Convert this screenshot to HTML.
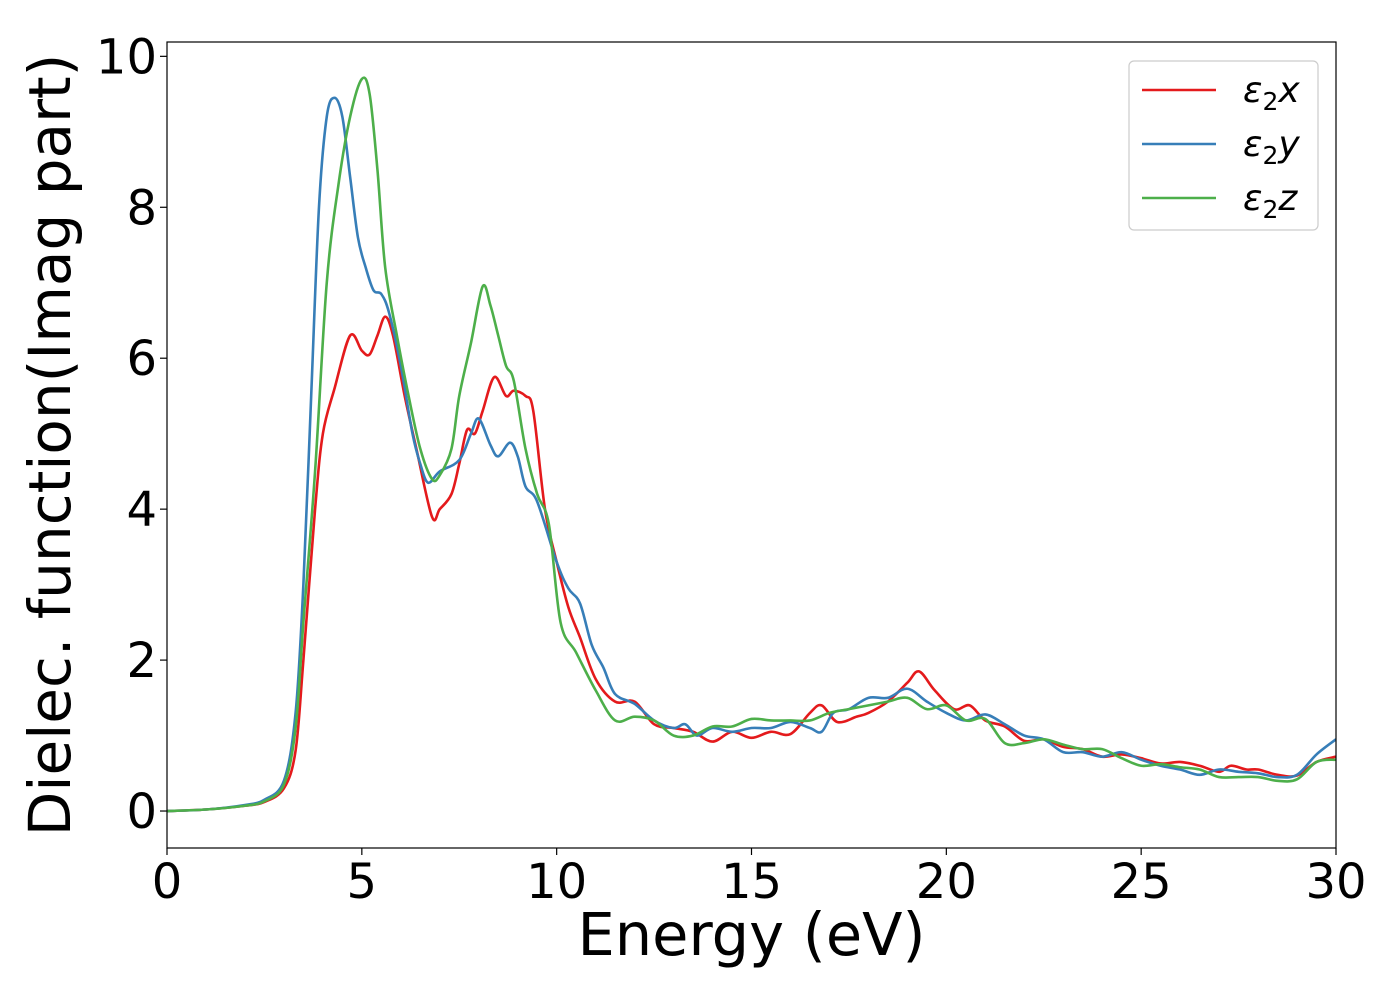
<!DOCTYPE html>
<html><head><meta charset="utf-8"><style>
body{margin:0;background:#fff}
svg text{font-family:"DejaVu Sans","Liberation Sans",sans-serif;fill:#000}
</style></head><body>
<svg id="chart" width="1400" height="1000">
<g id="plot"></g>
</svg>
<script>
const xRed=[0,1,2,2.5,3,3.3,3.5,3.8,4,4.3,4.7,5,5.2,5.4,5.6,5.8,6.1,6.4,6.8,7,7.3,7.5,7.7,7.9,8.1,8.4,8.7,8.9,9.2,9.4,9.7,10,10.3,10.6,11,11.5,12,12.5,13,13.5,14,14.5,15,15.5,16,16.5,16.8,17.2,17.7,18,18.5,19,19.3,19.7,20.2,20.6,21,21.5,22,22.5,23,23.5,24,24.5,25,25.5,26,26.5,27,27.3,27.7,28,28.5,29,29.5,30];
const yRed=[0,0.02,0.07,0.12,0.3,0.8,2,4,5,5.6,6.3,6.1,6.05,6.3,6.55,6.3,5.5,4.8,3.9,4,4.2,4.6,5.05,5.0,5.3,5.75,5.5,5.57,5.5,5.3,4,3.3,2.7,2.3,1.75,1.45,1.45,1.15,1.1,1.05,0.92,1.05,0.97,1.05,1.02,1.3,1.4,1.18,1.25,1.3,1.45,1.7,1.85,1.6,1.35,1.4,1.2,1.12,0.93,0.95,0.85,0.82,0.72,0.75,0.7,0.63,0.65,0.6,0.52,0.6,0.55,0.55,0.48,0.47,0.65,0.72];
const xBlue=[0,1,2,2.5,3,3.3,3.5,3.7,3.9,4.1,4.3,4.5,4.7,4.9,5.1,5.3,5.5,5.7,6,6.3,6.5,6.7,7,7.5,7.8,8,8.3,8.5,8.8,9,9.2,9.5,10,10.3,10.6,10.9,11.2,11.5,12,12.5,13,13.3,13.6,14,14.5,15,15.5,16,16.5,16.8,17.1,17.5,18,18.5,19,19.5,20,20.5,21,21.5,22,22.5,23,23.5,24,24.5,25,25.5,26,26.5,27,27.5,28,28.5,29,29.5,30];
const yBlue=[0,0.02,0.08,0.15,0.4,1.3,3,5.5,8,9.2,9.45,9.2,8.4,7.6,7.2,6.9,6.85,6.6,5.9,5,4.6,4.35,4.5,4.65,5.0,5.2,4.85,4.7,4.88,4.7,4.3,4.1,3.3,2.95,2.75,2.2,1.9,1.55,1.42,1.2,1.1,1.15,1.0,1.1,1.05,1.1,1.1,1.18,1.1,1.05,1.3,1.35,1.5,1.5,1.62,1.45,1.3,1.2,1.28,1.15,1.0,0.95,0.78,0.78,0.72,0.78,0.68,0.6,0.55,0.48,0.55,0.52,0.5,0.45,0.48,0.75,0.95];
const xGreen=[0,1,2,2.5,3,3.3,3.5,3.8,4.1,4.4,4.7,5,5.2,5.4,5.6,5.9,6.2,6.5,6.8,7,7.3,7.5,7.8,8.1,8.3,8.5,8.7,8.9,9.2,9.5,9.8,10.1,10.5,11,11.5,12,12.5,13,13.5,14,14.5,15,15.5,16,16.5,17,17.5,18,18.5,19,19.5,20,20.5,21,21.5,22,22.5,23,23.5,24,24.5,25,25.5,26,26.5,27,27.5,28,28.5,29,29.5,30];
const yGreen=[0,0.02,0.07,0.13,0.35,1.1,2.5,4.5,7,8.3,9.2,9.7,9.5,8.5,7.2,6.3,5.5,4.8,4.4,4.45,4.8,5.5,6.2,6.95,6.7,6.3,5.9,5.7,4.8,4.2,3.8,2.5,2.1,1.6,1.2,1.25,1.2,1.0,1.0,1.12,1.12,1.22,1.2,1.2,1.2,1.3,1.35,1.4,1.45,1.5,1.35,1.4,1.2,1.22,0.9,0.9,0.95,0.88,0.82,0.82,0.7,0.6,0.62,0.58,0.55,0.45,0.45,0.45,0.4,0.42,0.65,0.68];
const xTicks=[0,5,10,15,20,25,30];
const yTicks=[0,2,4,6,8,10];
const legendLabels=["x","y","z"];

const L=167,R=1336,T=42,B=848,X0=0,X1=30,Y0=-0.49,Y1=10.19;
const sx=v=>L+(v-X0)/(X1-X0)*(R-L);
const sy=v=>B-(v-Y0)/(Y1-Y0)*(B-T);
const NS="http://www.w3.org/2000/svg";
const g=document.getElementById('plot');
function mk(t,a){const e=document.createElementNS(NS,t);for(const k in a)e.setAttribute(k,a[k]);g.appendChild(e);return e;}
function pathD(xs,ys){
  const p=xs.map((x,i)=>[sx(x),sy(ys[i])]);
  let d="M"+p[0][0]+","+p[0][1];
  for(let i=0;i<p.length-1;i++){
    const p0=p[i-1]||p[i],p1=p[i],p2=p[i+1],p3=p[i+2]||p2;
    const c1=[p1[0]+(p2[0]-p0[0])/6,p1[1]+(p2[1]-p0[1])/6];
    const c2=[p2[0]-(p3[0]-p1[0])/6,p2[1]-(p3[1]-p1[1])/6];
    d+=" C"+c1+" "+c2+" "+p2;
  }
  return d;
}
const series=[[xRed,yRed,"#e41a1c","series-eps2-x"],[xBlue,yBlue,"#377eb8","series-eps2-y"],[xGreen,yGreen,"#4daf4a","series-eps2-z"]];
const clip=mk('clipPath',{id:'cp'});clip.appendChild(document.createElementNS(NS,'rect'));
clip.firstChild.setAttribute('x',L);clip.firstChild.setAttribute('y',T);clip.firstChild.setAttribute('width',R-L);clip.firstChild.setAttribute('height',B-T);
series.forEach(s=>{
  const p=mk('path',{d:pathD(s[0],s[1]),fill:'none',stroke:s[2],'stroke-width':2.6,'clip-path':'url(#cp)'});
  
  
});
const frame=mk('rect',{x:L,y:T,width:R-L,height:B-T,fill:'none',stroke:'#000','stroke-width':1.2});


xTicks.forEach(v=>{
  const x=sx(v);
  const tk=mk('line',{x1:x,x2:x,y1:B,y2:B+7,stroke:'#000','stroke-width':1.2});
  
  
  const t=mk('text',{x:x,y:B+50,'text-anchor':'middle','font-size':48});
  t.textContent=v;
  
  
});
yTicks.forEach(v=>{
  const y=sy(v);
  const tk=mk('line',{x1:L-7,x2:L,y1:y,y2:y,stroke:'#000','stroke-width':1.2});
  
  
  const t=mk('text',{x:L-10,y:y+17,'text-anchor':'end','font-size':48});
  t.textContent=v;
  
  
});
const xl=mk('text',{x:(L+R)/2,y:955,'text-anchor':'middle','font-size':59});
xl.textContent="Energy (eV)";


const yl=mk('text',{x:0,y:0,'text-anchor':'middle','font-size':58,transform:'translate(70,445) rotate(-90)'});
yl.textContent="Dielec. function(Imag part)";


const lb=mk('rect',{x:1129,y:61,width:189,height:169,rx:5,fill:'#fff',stroke:'#ccc','stroke-width':1.2});


legendLabels.forEach((lab,i)=>{
  const y=90+i*54;
  const ln=mk('line',{x1:1142,x2:1216,y1:y,y2:y,stroke:series[i][2],'stroke-width':2.6});
  
  
  const t=mk('text',{x:1243,y:y+12,'font-size':36,'font-style':'italic'});
  t.innerHTML='ε<tspan font-size="25" font-style="normal" dy="8">2</tspan><tspan dy="-8">'+lab+'</tspan>';
  
  
});
</script>
</body></html>
